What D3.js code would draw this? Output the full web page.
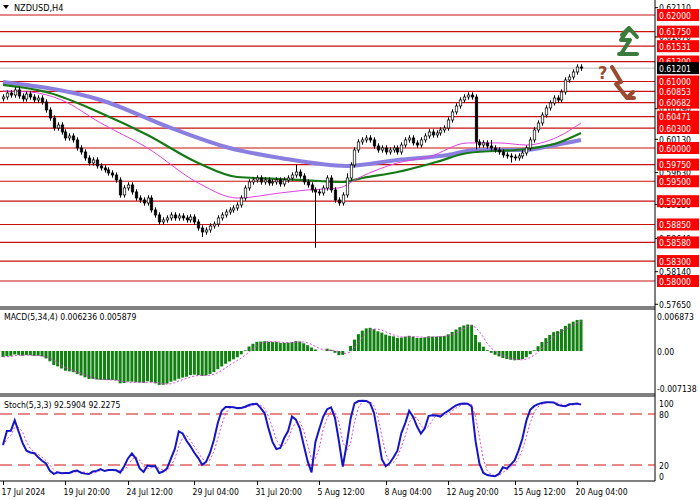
<!DOCTYPE html>
<html>
<head>
<meta charset="UTF-8">
<script src="https://d3js.org/d3.v7.min.js"></script>
<style>
  body { margin: 0; background: #fff; }
  text { font-family: "DejaVu Sans Condensed", "DejaVu Sans", sans-serif; }
</style>
</head>
<body>
<svg width="700" height="500"></svg>
<script>
// closes of the H4 bars, 17 Jul .. 20 Aug 2024
const closes = [
  0.60767,0.60827,0.60797,0.60873,0.60782,0.60737,0.60812,0.60767,0.60722,0.60752,
  0.60692,0.60572,0.60451,0.60301,0.60346,0.60241,0.60151,0.60181,0.60121,0.60000,
  0.59940,0.59850,0.59775,0.59820,0.59730,0.59700,0.59670,0.59624,0.59594,0.59519,
  0.59294,0.59399,0.59444,0.59339,0.59248,0.59218,0.59173,0.59248,0.59068,0.58993,
  0.58888,0.58918,0.58948,0.58993,0.58948,0.58978,0.58948,0.58918,0.58963,0.58888,
  0.58797,0.58737,0.58767,0.58827,0.58857,0.58948,0.58993,0.59038,0.59068,0.59098,
  0.59143,0.59248,0.59399,0.59489,0.59519,0.59549,0.59489,0.59519,0.59474,0.59489,
  0.59519,0.59459,0.59519,0.59549,0.59594,0.59639,0.59579,0.59489,0.59444,0.59369,
  0.59339,0.59324,0.59399,0.59549,0.59369,0.59218,0.59173,0.59294,0.59549,0.59745,
  0.59970,0.60091,0.60121,0.60151,0.60121,0.60030,0.59970,0.60000,0.59940,0.59970,
  0.60000,0.59940,0.60045,0.60121,0.60151,0.60076,0.60045,0.60121,0.60181,0.60241,
  0.60196,0.60226,0.60271,0.60301,0.60421,0.60542,0.60632,0.60722,0.60767,0.60797,
  0.60767,0.60091,0.60045,0.60076,0.60030,0.60000,0.59970,0.59940,0.59895,0.59880,
  0.59865,0.59850,0.59880,0.59925,0.60000,0.60121,0.60271,0.60376,0.60497,0.60602,
  0.60677,0.60752,0.60722,0.60842,0.61023,0.61068,0.61143,0.61218,0.61201
];
// closes before the window (indicator warm-up only)
const history = [
  0.6065,0.6070,0.6068,0.6075,0.6080,0.6078,0.6085,0.6090,0.6088,0.6095,
  0.6100,0.6098,0.6105,0.6110,0.6108,0.6115,0.6120,0.6118,0.6122,0.6128,
  0.6125,0.6130,0.6127,0.6122,0.6118,0.6112,0.6105,0.6100,0.6096,0.6090,
  0.6088,0.6084,0.6086,0.6080,0.6078,0.6082,0.6079,0.6081,0.6076,0.6080
];
// long wicks [bar, high, low]
const wicks = [[51, null, 0.5866], [75, 0.5975, null], [80, null, 0.5850], [88, 0.5962, null],
  [121, null, 0.5998], [125, 0.6012, null], [130, null, 0.5978]];
const wickSize = 0.0004;

// moving averages [bar, value]
const maSlow = [[0,.60993],[25,.60722],[43,.60301],[58,.60000],[71,.59850],[88,.59730],[101,.59820],[114,.59895],[121,.59970],[134,.59970],[140,.60030],[148,.60121]];
const maMid = [[0,.60948],[12,.60827],[25,.60527],[37,.60196],[50,.59775],[60,.59564],[71,.59534],[81,.59504],[87,.59489],[92,.59549],[101,.59639],[111,.59790],[119,.59925],[134,.59985],[142,.60076],[148,.60226]];
const maFast = [[0,.60857],[7,.60842],[15,.60722],[25,.60376],[37,.60000],[50,.59474],[60,.59248],[71,.59324],[78,.59369],[86,.59399],[91,.59549],[101,.59775],[109,.59865],[119,.60076],[127,.60076],[134,.60045],[142,.60166],[148,.60376]];

const levels = [0.62000,0.61750,0.61531,0.61300,0.61000,0.60853,0.60682,0.60471,0.60300,0.60000,0.59750,0.59500,0.59200,0.58850,0.58580,0.58300,0.58000];
const priceTicks = [0.62110,0.61670,0.60590,0.60130,0.59630,0.59150,0.58640,0.58140,0.57650];
const lastPrice = 0.61201;
const dateLabels = ["17 Jul 2024","19 Jul 20:00","24 Jul 12:00","29 Jul 04:00","31 Jul 20:00","5 Aug 12:00","8 Aug 04:00","12 Aug 20:00","15 Aug 12:00","20 Aug 04:00"];
const dateBars = [0,16,32,49,65,81,98,114,131,147];

const svg = d3.select("svg");
const axisX = 655;
const fs = 8.6;
const n = closes.length;
const x = d3.scaleLinear().domain([0, n - 1]).range([3, 581]);
const y = d3.scaleLinear().domain([0.58, 0.62]).range([281, 15]);
const ym = d3.scaleLinear().domain([0, 0.006873]).range([351, 316]);
const ys = d3.scaleLinear().domain([0, 100]).range([482, 397]);

// bars
const bars = closes.map((c, i) => {
  const o = i === 0 ? 0.60740 : closes[i - 1];
  let h = Math.max(o, c) + wickSize, l = Math.min(o, c) - wickSize;
  wicks.forEach(w => { if (w[0] === i) { if (w[1]) h = w[1]; if (w[2]) l = w[2]; } });
  return { i, o, c, h, l };
});

// indicators
const all = history.concat(closes);
function ema(arr, p) { const k = 2 / (p + 1); let e = arr[0]; return arr.map(v => (e = v * k + e * (1 - k))); }
const e5 = ema(all, 5), e34 = ema(all, 34);
const macdAll = all.map((v, i) => e5[i] - e34[i]);
const macd = macdAll.slice(history.length);
const signal = macd.map((v, i) => d3.mean(macdAll.slice(history.length + i - 3, history.length + i + 1)));

const hAll = history.map(v => v + wickSize).concat(bars.map(b => b.h));
const lAll = history.map(v => v - wickSize).concat(bars.map(b => b.l));
const num = [], den = [];
all.forEach((c, i) => {
  const hh = d3.max(hAll.slice(Math.max(0, i - 4), i + 1)), ll = d3.min(lAll.slice(Math.max(0, i - 4), i + 1));
  num.push(c - ll); den.push(hh - ll);
});
const kAll = all.map((c, i) => { const a = d3.sum(num.slice(Math.max(0, i - 2), i + 1)), b = d3.sum(den.slice(Math.max(0, i - 2), i + 1)); return b ? 100 * a / b : 50; });
const dAll = kAll.map((v, i) => d3.mean(kAll.slice(Math.max(0, i - 2), i + 1)));
const stK = kAll.slice(history.length), stD = dAll.slice(history.length);

// clip
svg.append("clipPath").attr("id", "cm").append("rect").attr("x", 0).attr("y", 0).attr("width", axisX).attr("height", 307);
const main = svg.append("g").attr("clip-path", "url(#cm)");

// levels
levels.forEach(v => main.append("line").attr("x1", 0).attr("x2", axisX).attr("y1", y(v)).attr("y2", y(v)).attr("stroke", "#c81010").attr("stroke-width", 1.2));
main.append("line").attr("x1", 0).attr("x2", axisX).attr("y1", y(lastPrice)).attr("y2", y(lastPrice)).attr("stroke", "#bbb");

// MAs
const maLine = d3.line().x(d => x(d[0])).y(d => y(d[1])).curve(d3.curveMonotoneX);
main.append("path").attr("d", maLine(maSlow)).attr("fill", "none").attr("stroke", "#8a7ee0").attr("stroke-width", 4);
main.append("path").attr("d", maLine(maMid)).attr("fill", "none").attr("stroke", "#157a15").attr("stroke-width", 2.2);
main.append("path").attr("d", maLine(maFast)).attr("fill", "none").attr("stroke", "#e040e0").attr("stroke-width", 1);

// candles
const cg = main.append("g");
bars.forEach(b => {
  const cx = Math.round(x(b.i)) + 0.5;
  cg.append("line").attr("x1", cx).attr("x2", cx).attr("y1", y(b.h)).attr("y2", y(b.l)).attr("stroke", "#000");
  const top = y(Math.max(b.o, b.c)), bot = y(Math.min(b.o, b.c));
  cg.append("rect").attr("x", cx - 1.25).attr("y", top).attr("width", 2.5).attr("height", Math.max(1, bot - top))
    .attr("fill", b.c >= b.o ? "#fff" : "#000").attr("stroke", "#000").attr("stroke-width", 0.7);
});

// arrows
svg.append("path").attr("d", "M619,54 L637,54 M621,54 L630,40 L621,40 L629,28 L637,37 M622,35 L629,28")
  .attr("fill", "none").attr("stroke", "#3a7a3a").attr("stroke-width", 4).attr("stroke-linecap", "round").attr("stroke-linejoin", "round");
svg.append("path").attr("d", "M612,67 L621,82 L616,84 L627,98 L633,92 M627,98 L634,98")
  .attr("fill", "none").attr("stroke", "#9a4a30").attr("stroke-width", 4).attr("stroke-linecap", "round").attr("stroke-linejoin", "round");
svg.append("text").attr("x", 598).attr("y", 79).text("?").attr("fill", "#9a4a30").attr("font-size", 18).attr("font-weight", "bold");

// title
svg.append("path").attr("d", "M3,5 L9,5 L6,9 Z").attr("fill", "#000");
svg.append("text").attr("x", 14).attr("y", 11).text("NZDUSD,H4").attr("font-size", fs + 0.5);

// panel frames
svg.append("line").attr("x1", axisX).attr("x2", axisX).attr("y1", 0).attr("y2", 481).attr("stroke", "#000");
[[0, 307], [309, 394], [396, 481]].forEach(p => {
  svg.append("line").attr("x1", 0).attr("x2", axisX).attr("y1", p[1]).attr("y2", p[1]).attr("stroke", "#000");
  if (p[0]) svg.append("line").attr("x1", 0).attr("x2", axisX).attr("y1", p[0]).attr("y2", p[0]).attr("stroke", "#000");
});

// price axis
priceTicks.forEach(v => {
  svg.append("line").attr("x1", axisX).attr("x2", axisX + 3).attr("y1", y(v)).attr("y2", y(v)).attr("stroke", "#000");
  svg.append("text").attr("x", axisX + 4).attr("y", y(v) + 3.5).text(v.toFixed(5)).attr("font-size", fs);
});
levels.forEach(v => {
  svg.append("rect").attr("x", axisX + 2).attr("y", y(v) - 6).attr("width", 42).attr("height", 12).attr("fill", "#f00");
  svg.append("text").attr("x", axisX + 4).attr("y", y(v) + 3.5).text(v.toFixed(5)).attr("font-size", fs).attr("fill", "#fff");
});
svg.append("rect").attr("x", axisX + 2).attr("y", y(lastPrice) - 6).attr("width", 42).attr("height", 12).attr("fill", "#000");
svg.append("text").attr("x", axisX + 4).attr("y", y(lastPrice) + 3.5).text(lastPrice.toFixed(5)).attr("font-size", fs).attr("fill", "#fff");

// MACD
const mg = svg.append("g");
macd.forEach((v, i) => {
  mg.append("rect").attr("x", x(i) - 1.5).attr("width", 3)
    .attr("y", Math.min(ym(v), ym(0))).attr("height", Math.abs(ym(v) - ym(0))).attr("fill", "#108010");
});
mg.append("path").attr("d", d3.line().x((d, i) => x(i)).y(d => ym(d))(signal))
  .attr("fill", "none").attr("stroke", "#e040e0").attr("stroke-width", 1).attr("stroke-dasharray", "2,2");
svg.append("text").attr("x", 4).attr("y", 320).text("MACD(5,34,4) 0.006236 0.005879").attr("font-size", fs);
[["0.006873", 316], ["0.00", 351], ["-0.007138", 388]].forEach(t => {
  svg.append("text").attr("x", axisX + 2).attr("y", t[1] + 3.5).text(t[0]).attr("font-size", fs);
});

// Stochastic
[20, 80].forEach(v => svg.append("line").attr("x1", 0).attr("x2", axisX).attr("y1", ys(v)).attr("y2", ys(v))
  .attr("stroke", "#d01010").attr("stroke-dasharray", "12,6"));
const sLine = d3.line().x((d, i) => x(i)).y(d => ys(d));
svg.append("path").attr("d", sLine(stD)).attr("fill", "none").attr("stroke", "#e040e0").attr("stroke-width", 1).attr("stroke-dasharray", "2,2");
svg.append("path").attr("d", sLine(stK)).attr("fill", "none").attr("stroke", "#1515c8").attr("stroke-width", 2);
svg.append("text").attr("x", 4).attr("y", 408).text("Stoch(5,3,3) 92.5904 92.2275").attr("font-size", fs);
[["100", 403], ["80", 414], ["20", 465], ["0", 476]].forEach(t => {
  svg.append("text").attr("x", axisX + 4).attr("y", t[1] + 3.5).text(t[0]).attr("font-size", fs);
});

// time axis
dateBars.forEach((b, k) => {
  const tx = Math.round(x(b)) + 0.5;
  svg.append("line").attr("x1", tx).attr("x2", tx).attr("y1", 481).attr("y2", 485).attr("stroke", "#000");
  svg.append("text").attr("x", tx - 2).attr("y", 495).text(dateLabels[k]).attr("font-size", fs);
});
</script>
</body>
</html>
